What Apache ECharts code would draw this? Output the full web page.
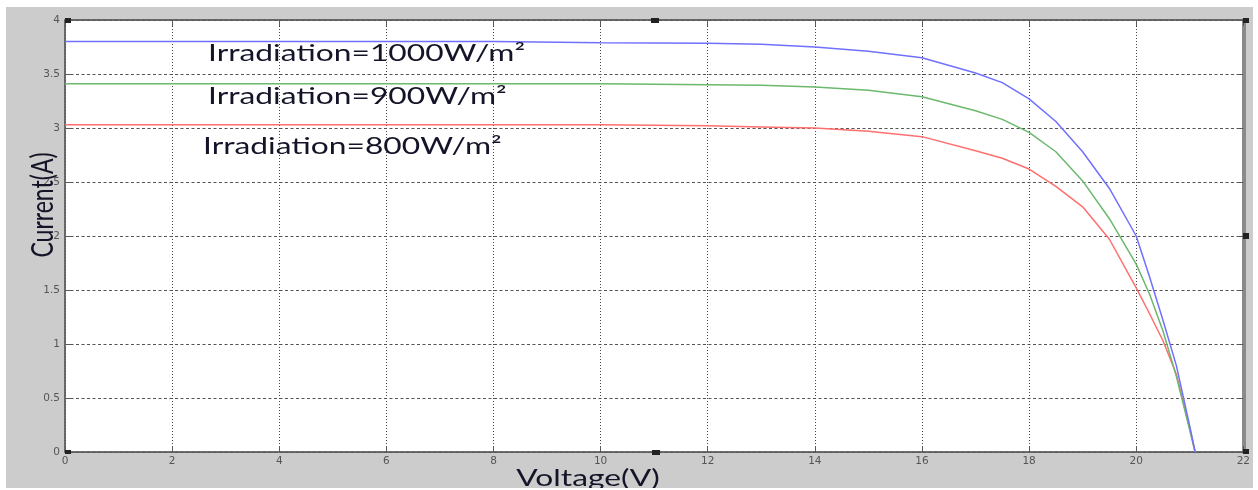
<!DOCTYPE html>
<html>
<head>
<meta charset="utf-8">
<script src="https://cdn.jsdelivr.net/npm/echarts@6/dist/echarts.min.js"></script>
<style>
  html, body { margin: 0; padding: 0; background: #ffffff; }
  #chart { position: absolute; left: 6px; top: 7px; width: 1247px; height: 481px; }
</style>
</head>
<body>
<div id="chart"></div>
<script>
// I-V characteristic of a PV module at three irradiation levels
const voltage = [0, 2, 4, 6, 8, 10, 12, 13, 14, 15, 16, 17, 17.5, 18, 18.5, 19, 19.5, 20, 20.25, 20.5, 20.75, 21, 21.1];
const current1000 = [3.80, 3.80, 3.80, 3.80, 3.80, 3.79, 3.785, 3.775, 3.75, 3.71, 3.65, 3.51, 3.42, 3.27, 3.06, 2.78, 2.44, 2.00, 1.62, 1.22, 0.80, 0.24, 0];
const current900  = [3.41, 3.41, 3.41, 3.41, 3.41, 3.41, 3.40, 3.395, 3.38, 3.35, 3.29, 3.16, 3.08, 2.96, 2.78, 2.51, 2.16, 1.74, 1.46, 1.12, 0.70, 0.20, 0];
const current800  = [3.03, 3.03, 3.03, 3.03, 3.03, 3.03, 3.02, 3.01, 3.00, 2.97, 2.92, 2.79, 2.72, 2.62, 2.46, 2.27, 1.97, 1.52, 1.28, 1.03, 0.72, 0.22, 0];
const curveLabels = ['Irradiation=1000W/m²', 'Irradiation=900W/m²', 'Irradiation=800W/m²'];
const xTicks = [0, 2, 4, 6, 8, 10, 12, 14, 16, 18, 20, 22];
const yTicks = [0, 0.5, 1, 1.5, 2, 2.5, 3, 3.5, 4];

const pairs = (ys) => voltage.map((v, i) => [v, ys[i]]);

const chart = echarts.init(document.getElementById('chart'), null, { renderer: 'canvas' });

const frameColor = '#5a5a5a';
const textColor = '#141428';
const wide = 1.38; // horizontal stretch of the figure's lettering
const tickLabel = { color: '#555', fontSize: 10.5, fontFamily: 'DejaVu Sans' };

const label = (text, x, y) => ({
  type: 'text', x: x, y: y, scaleX: wide, z: 10,
  style: { text: text, fontSize: 23, fontFamily: 'Lato', fill: textColor, align: 'left', verticalAlign: 'top' }
});
const handle = (x, y, w, h) => ({ type: 'rect', shape: { x: x, y: y, width: w, height: h }, style: { fill: '#222' }, z: 10 });

const option = {
  backgroundColor: '#cccccc',
  animation: false,
  grid: {
    left: 59, right: 6, top: 13, bottom: 36,
    show: true, backgroundColor: '#ffffff', borderColor: frameColor, borderWidth: 1
  },
  xAxis: [{
    type: 'value', min: xTicks[0], max: xTicks[xTicks.length - 1], interval: 2,
    axisLine: { show: true, onZero: false, lineStyle: { color: frameColor, width: 1.5 } },
    axisTick: { show: true, inside: true, length: 6, lineStyle: { color: frameColor } },
    axisLabel: Object.assign({ margin: 4 }, tickLabel),
    splitLine: { show: true, lineStyle: { color: '#444', type: [1, 2], width: 1 } }
  }, {
    type: 'value', position: 'top', min: xTicks[0], max: xTicks[xTicks.length - 1], interval: 2,
    axisLine: { show: true, onZero: false, lineStyle: { color: frameColor, width: 1.5 } },
    axisTick: { show: true, inside: true, length: 6, lineStyle: { color: frameColor } },
    axisLabel: { show: false }, splitLine: { show: false }
  }],
  yAxis: [{
    type: 'value', min: yTicks[0], max: yTicks[yTicks.length - 1], interval: 0.5,
    axisLine: { show: true, onZero: false, lineStyle: { color: frameColor, width: 1.5 } },
    axisTick: { show: true, inside: true, length: 6, lineStyle: { color: frameColor } },
    axisLabel: Object.assign({ margin: 5 }, tickLabel),
    splitLine: { show: true, lineStyle: { color: '#555', type: [3, 2.5], width: 1 } }
  }, {
    type: 'value', position: 'right', min: yTicks[0], max: yTicks[yTicks.length - 1], interval: 0.5,
    axisLine: { show: true, onZero: false, lineStyle: { color: '#8a8a8a', width: 4 } },
    axisTick: { show: true, inside: true, length: 6, lineStyle: { color: frameColor } },
    axisLabel: { show: false }, splitLine: { show: false }
  }],
  series: [
    { name: curveLabels[0], type: 'line', data: pairs(current1000), showSymbol: false,
      lineStyle: { color: '#7070ff', width: 1.5 }, z: 4 },
    { name: curveLabels[1], type: 'line', data: pairs(current900), showSymbol: false,
      lineStyle: { color: '#6cb86c', width: 1.5 }, z: 3 },
    { name: curveLabels[2], type: 'line', data: pairs(current800), showSymbol: false,
      lineStyle: { color: '#ff6f6f', width: 1.5 }, z: 2 }
  ],
  graphic: [
    label(curveLabels[0], 202, 35),
    label(curveLabels[1], 202, 78),
    label(curveLabels[2], 197, 128),
    { type: 'text', x: 37, y: 198, rotation: Math.PI / 2, scaleY: wide, z: 10,
      style: { text: 'Current(A)', fontSize: 23, fontFamily: 'Lato', fill: textColor,
               align: 'center', verticalAlign: 'middle' } },
    { type: 'text', x: 582, y: 472, scaleX: wide, z: 10,
      style: { text: 'Voltage(V)', fontSize: 23, fontFamily: 'Lato', fill: textColor,
               align: 'center', verticalAlign: 'middle' } },
    // edit handles on the axes frame
    handle(645, 11, 8, 5),
    handle(646, 443, 8, 5),
    handle(1237, 226, 6, 6),
    handle(1237, 11, 6, 5),
    handle(1237, 442, 6, 5),
    handle(59, 11, 6, 5),
    handle(59, 443, 6, 4)
  ]
};

chart.setOption(option);
</script>
</body>
</html>
